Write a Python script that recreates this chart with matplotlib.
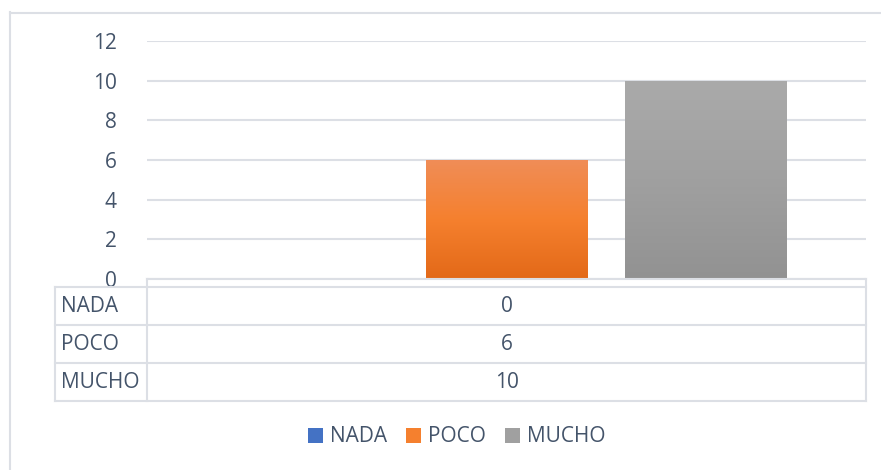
import matplotlib
matplotlib.use("Agg")
import matplotlib.pyplot as plt
import numpy as np
from matplotlib.patches import Patch
from matplotlib.colors import LinearSegmentedColormap
from matplotlib.lines import Line2D

series = ["NADA", "POCO", "MUCHO"]
values = [0, 6, 10]
yticks = [0, 2, 4, 6, 8, 10, 12]
grad_top = ["#5A8AD6", "#F08D57", "#AAAAAA"]
grad_mid = ["#4472C4", "#F5802E", "#A0A0A0"]
grad_bot = ["#2F5EB3", "#E36918", "#929292"]

plt.rcParams['font.family'] = ['Open Sans', 'DejaVu Sans']
TXT = "#44546A"
GRID = "#DCDFE5"

W, H = 881, 470
fig = plt.figure(figsize=(W / 100, H / 100), dpi=100)

def fx(px):
    return px / W

def fy(py):
    return 1 - py / H

L, R, T, B = 147, 866, 41, 279
ax = fig.add_axes([fx(L), fy(B), fx(R) - fx(L), fy(T) - fy(B)])
ax.set_xlim(-0.5, 0.5)
ax.set_ylim(0, 12)
ax.set_yticks(yticks)
ax.set_yticklabels([str(t) for t in yticks], fontsize=15, color=TXT)
ax.tick_params(axis='y', length=0, pad=22)
ax.set_xticks([])
for s in ax.spines.values():
    s.set_visible(False)
ax.yaxis.grid(True, color=GRID, linewidth=1.5, zorder=0)
ax.set_axisbelow(True)

width = 0.2253
offsets = [-0.2775, 0.0, 0.2775]
for i, (name, v) in enumerate(zip(series, values)):
    bars = ax.bar(offsets[i], v, width=width, color=grad_mid[i], zorder=2, linewidth=0)
    if v > 0:
        bar = bars[0]
        cmap = LinearSegmentedColormap.from_list(name, [grad_bot[i], grad_mid[i], grad_top[i]])
        grad = np.linspace(0, 1, 256).reshape(-1, 1)
        x0 = offsets[i] - width / 2
        im = ax.imshow(grad, extent=[x0, x0 + width, 0, v], origin='lower',
                       cmap=cmap, aspect='auto', zorder=3)
        im.set_clip_path(bar)
ax.set_xlim(-0.5, 0.5)
ax.set_ylim(0, 12)

# data table drawn in figure pixel coordinates
lc = dict(color=GRID, linewidth=1.5, transform=fig.transFigure)
rows = [287, 325, 363, 401]
for ry in rows:
    fig.add_artist(Line2D([fx(55), fx(866)], [fy(ry), fy(ry)], **lc))
fig.add_artist(Line2D([fx(147), fx(866)], [fy(279), fy(279)], **lc))
fig.add_artist(Line2D([fx(55), fx(55)], [fy(287), fy(401)], **lc))
fig.add_artist(Line2D([fx(147), fx(147)], [fy(279), fy(401)], **lc))
fig.add_artist(Line2D([fx(866), fx(866)], [fy(279), fy(401)], **lc))
for i, (name, v) in enumerate(zip(series, values)):
    cy = (rows[i] + rows[i + 1]) / 2
    fig.text(fx(61), fy(cy), name, ha='left', va='center', fontsize=15, color=TXT)
    fig.text(fx(507), fy(cy), str(v), ha='center', va='center', fontsize=15, color=TXT)

# chart area border (left and top visible)
fig.add_artist(Line2D([fx(9.5), fx(9.5)], [fy(12), 0], **lc))
fig.add_artist(Line2D([fx(9.5), 1], [fy(12.5), fy(12.5)], **lc))

handles = [Patch(facecolor=grad_mid[i], edgecolor='none') for i in range(3)]
fig.legend(handles, series, loc='center', bbox_to_anchor=(fx(457), fy(437)), ncol=3,
           frameon=False, fontsize=15, labelcolor=TXT, handlelength=0.7, handleheight=0.7,
           handletextpad=0.35, columnspacing=0.92, borderpad=0)

fig.savefig("out.png", dpi=100, facecolor='white')
